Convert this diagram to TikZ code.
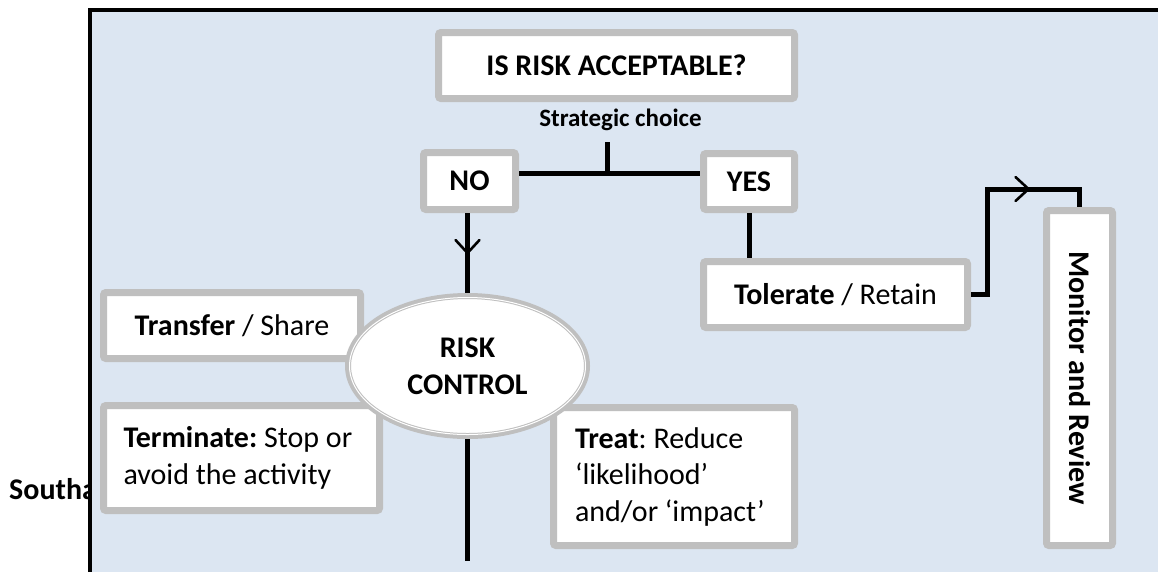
\documentclass[tikz,border=0pt]{standalone}
\usepackage{fontspec}
\setmainfont{Carlito}
\usetikzlibrary{shapes.geometric,decorations.markings}
\definecolor{bgblue}{HTML}{DCE6F2}
\definecolor{boxgray}{HTML}{BFBFBF}
\frenchspacing
\begin{document}
\begin{tikzpicture}[x=1pt,y=-1pt,
  mainfont/.style={font=\fontsize{30}{36.5}\selectfont\frenchspacing},
  box/.style={draw=boxgray, line width=7pt, fill=white, rounded corners=2.5pt,
    inner sep=0pt, mainfont, text=black},
  conn/.style={line width=5pt, draw=black},
  vmark/.style={postaction={decorate}, decoration={markings,
    mark=at position #1 with {\draw[line width=2.6pt, line cap=round]
      (-13pt,-12pt) -- (0pt,0pt) -- (-13pt,12pt);}}}]
\clip (0,0) rectangle (1158,571);
\fill[white] (0,0) rectangle (1158,571);
% partly hidden text behind the frame
\node[anchor=west, inner sep=0pt, font=\bfseries\fontsize{30}{34}\selectfont] (sth) at (9,489) {Southa};
% frame
\draw[line width=4pt, fill=bgblue] (90,9.5) rectangle (1200,600);
% top
\node[box, minimum width=356pt, minimum height=66pt] (acc) at (616.5,65.5) {\bfseries IS RISK ACCEPTABLE?};
\node[inner sep=0pt, font=\bfseries\fontsize{25}{28}\selectfont] (strat) at (620.5,120) {Strategic choice};
\coordinate (tk) at (607,142);
\coordinate (jn) at (607,173);
\node[box, minimum width=92pt, minimum height=57pt] (no) at (469.5,181) {\bfseries NO};
\node[box, minimum width=91pt, minimum height=56pt] (yes) at (749,181.5) {\bfseries YES};
% right side
\node[box, minimum width=264pt, minimum height=66pt] (tol) at (835.5,294.5) {\textbf{Tolerate} / Retain};
\node[box, minimum width=66pt, minimum height=335pt] (mon) at (1079.5,378) {};
\node[rotate=-90, inner sep=0pt, font=\bfseries\fontsize{30}{34}\selectfont] (montxt) at (mon.center) {Monitor and Review};
% left / bottom boxes
\node[box, minimum width=257pt, minimum height=66pt] (trf) at (232,325.5) {\textbf{Transfer} / Share};
\node[box, minimum width=276pt, minimum height=105pt, text width=236pt, align=flush left] (ter) at (241.5,458) {\textbf{Terminate:} Stop or\\avoid the activity};
\node[box, minimum width=241pt, minimum height=138pt, text width=198pt, align=flush left] (trt) at (674,476.5) {\textbf{Treat}: Reduce\\‘likelihood’\\and/or ‘impact’};
% ellipse
\node[ellipse, draw=boxgray, line width=6pt, fill=white, minimum width=239pt, minimum height=140pt,
  inner sep=0pt, align=center, font=\bfseries\fontsize{30}{37}\selectfont] (rc) at (467.5,366) {RISK\\CONTROL};
\draw[white, line width=1pt] (rc.center) ellipse [x radius=118, y radius=68.5];
% connectors
\coordinate (bot) at (468,561);
\coordinate (bn) at (987,189);
\draw[conn] (tk) -- (jn);
\draw[conn] (no.east |- jn) -- (yes.west |- jn);
\draw[conn, vmark=0.5] (rc.north |- no.south) -- (rc.north);
\draw[conn] (rc.south) -- (rc.south |- bot);
\draw[conn] (yes.south) -- (yes.south |- tol.north);
\draw[conn, vmark=163pt] (tol.east) -- (bn |- tol.east) -- (bn) -- (mon.north |- bn) -- (mon.north);
\end{tikzpicture}
\end{document}
